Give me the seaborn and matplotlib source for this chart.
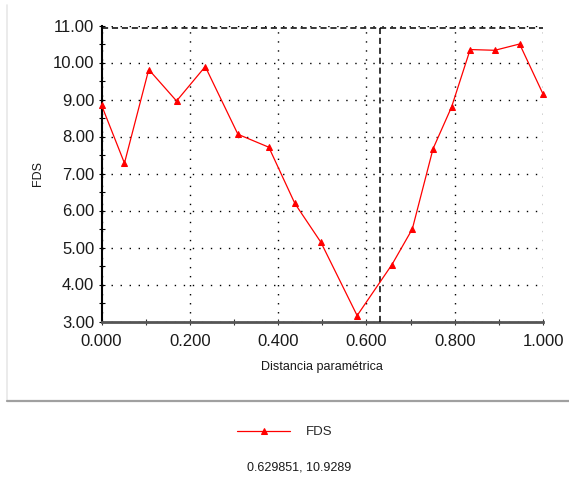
import matplotlib
matplotlib.use("Agg")
import matplotlib.pyplot as plt
import seaborn as sns
import pandas as pd
from matplotlib.lines import Line2D
from matplotlib.ticker import MultipleLocator, FormatStrFormatter

# ---- data ----
distancia = [0.000, 0.052, 0.107, 0.170, 0.235, 0.309, 0.379, 0.438, 0.497,
             0.579, 0.658, 0.704, 0.751, 0.793, 0.835, 0.891, 0.947, 1.000]
fds = [8.85, 7.28, 9.81, 8.96, 9.89, 8.06, 7.71, 6.19, 5.14,
       3.16, 4.54, 5.50, 7.67, 8.80, 10.35, 10.33, 10.50, 9.15]
cursor_x = 0.629851
cursor_y = 10.9289
series_name = "FDS"
x_label = "Distancia paramétrica"
y_label = "FDS"

df = pd.DataFrame({"x": distancia, "y": fds})

sns.set_theme(style="white")
plt.rcParams['font.family'] = ['Liberation Sans', 'DejaVu Sans']

W, H = 569, 478
fig = plt.figure(figsize=(W / 100, H / 100), dpi=100, facecolor="white")
ax = fig.add_axes([101.5 / W, 1 - 321.5 / H, (543 - 101.5) / W, 296 / H])
ax.set_facecolor("white")

sns.lineplot(data=df, x="x", y="y", ax=ax, color="#ff0000", linewidth=0.9,
             marker="^", markersize=5, markeredgecolor="#ff0000",
             markerfacecolor="#ff0000", label=series_name, clip_on=False, zorder=5)

ax.set_xlim(0, 1)
ax.set_ylim(3, 11)
ax.xaxis.set_major_locator(MultipleLocator(0.2))
ax.xaxis.set_minor_locator(MultipleLocator(0.1))
ax.yaxis.set_major_locator(MultipleLocator(1))
ax.yaxis.set_minor_locator(MultipleLocator(0.5))
ax.xaxis.set_major_formatter(FormatStrFormatter("%.3f"))
ax.yaxis.set_major_formatter(FormatStrFormatter("%.2f"))

ax.grid(True, which="major", color="black", linestyle=(0, (1, 5.5)), linewidth=1.0)
ax.set_axisbelow(True)

for s in ["top", "right"]:
    ax.spines[s].set_visible(False)
ax.spines["left"].set_color("black")
ax.spines["left"].set_linewidth(1.5)
ax.spines["bottom"].set_color("#555555")
ax.spines["bottom"].set_linewidth(2)

ax.tick_params(axis="both", which="both", direction="inout", length=4.5, width=0.8,
               colors="black", labelcolor="#1a1a1a", labelsize=12, pad=3,
               bottom=True, left=True)
ax.tick_params(axis="x", which="both", color="#333333", pad=6.5)

# crosshair cursor
ax.axvline(cursor_x, color="black", linestyle=(0, (4, 2.5)), linewidth=1.1, zorder=4)
ax.axhline(cursor_y, color="black", linestyle=(0, (4, 2.5)), linewidth=1.1, zorder=4)

ax.set_xlabel(x_label, fontsize=9, color="#1a1a1a", labelpad=9)
ax.set_ylabel(y_label, fontsize=9, color="#1a1a1a", labelpad=6)

# legend below the panel
handles, labels = ax.get_legend_handles_labels()
ax.get_legend().remove()
fig.legend(handles, labels, loc="center", bbox_to_anchor=(285 / W, 1 - 432 / H),
           frameon=False, fontsize=9.5, handlelength=4.0, handletextpad=1.2,
           markerscale=0.9)

fig.text(299 / W, 1 - 468 / H, f"{cursor_x:.6f}, {cursor_y:.4f}",
         ha="center", va="center", fontsize=9, color="#1a1a1a")

# panel borders
fig.add_artist(Line2D([7 / W, 7 / W], [1 - 5 / H, 1 - 400 / H],
                      transform=fig.transFigure, color="#e8e8e8", linewidth=1.2))
fig.add_artist(Line2D([7 / W, 1.0], [1 - 400.5 / H, 1 - 400.5 / H],
                      transform=fig.transFigure, color="#a0a0a0", linewidth=1.6))

fig.savefig("out.png", dpi=100, facecolor="white")
